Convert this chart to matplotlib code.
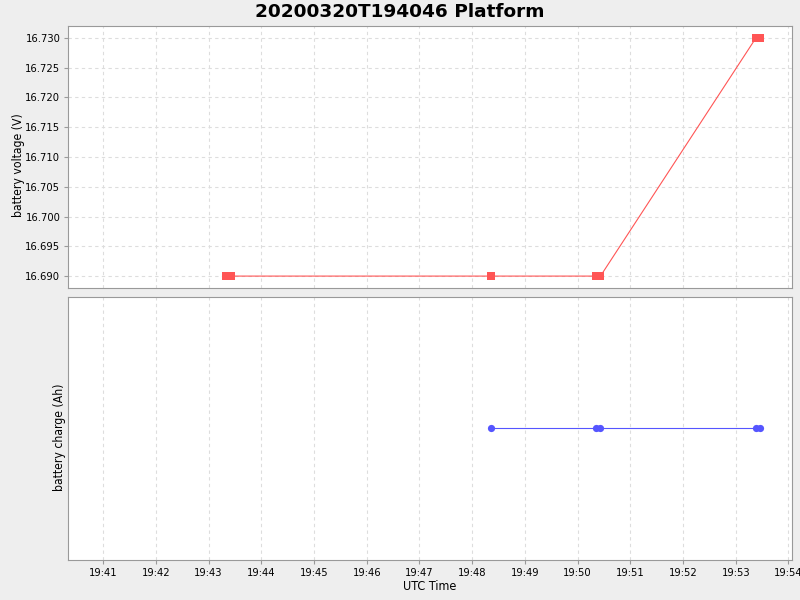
import matplotlib
matplotlib.use("Agg")
import matplotlib.pyplot as plt
import matplotlib.dates as mdates
import numpy as np
from datetime import datetime

# sample times (UTC)
times = ["19:43:20", "19:43:26", "19:48:21", "19:50:21", "19:50:26", "19:53:23", "19:53:28"]
voltage = [16.690, 16.690, 16.690, 16.690, 16.690, 16.730, 16.730]
charge = [np.nan, np.nan, 0.0, 0.0, 0.0, 0.0, 0.0]

volt_ticks = [16.690, 16.695, 16.700, 16.705, 16.710, 16.715, 16.720, 16.725, 16.730]
t = [datetime.strptime("2020-03-20 " + s, "%Y-%m-%d %H:%M:%S") for s in times]

bg = "#EEEEEE"
grid_c = "#DDDDDD"
edge_c = "#999999"

plt.rcParams["font.stretch"] = "condensed"

fig = plt.figure(figsize=(8, 6), dpi=100, facecolor=bg)
ax1 = fig.add_axes([0.085, 0.52, 0.905, 0.4367])
ax2 = fig.add_axes([0.085, 0.0667, 0.905, 0.4383], sharex=ax1)

ax1.plot(t, voltage, color="#FF5555", lw=0.8, marker="s", ms=5.2, mew=0)
ax2.plot(t, charge, color="#5555FF", lw=0.8, marker="o", ms=5.2, mew=0)

ax1.set_ylim(16.688, 16.732)
ax1.set_yticks(volt_ticks)
ax1.set_yticklabels(["%.3f" % v for v in volt_ticks])
ax2.set_ylim(-1, 1)
ax2.set_yticks([])

x0 = datetime(2020, 3, 20, 19, 40, 20)
x1 = datetime(2020, 3, 20, 19, 54, 4)
ax1.set_xlim(x0, x1)
ax2.xaxis.set_major_locator(mdates.MinuteLocator())
ax2.xaxis.set_major_formatter(mdates.DateFormatter("%H:%M"))
plt.setp(ax1.get_xticklabels(), visible=False)

for ax in (ax1, ax2):
    ax.set_facecolor("white")
    for sp in ax.spines.values():
        sp.set_color(edge_c)
    ax.tick_params(colors=edge_c, labelcolor="black", labelsize=8, length=3, width=0.8, pad=2.5)
    ax.grid(True, axis="x", color=grid_c, linestyle=(0, (3, 3)), lw=0.8)
ax1.grid(True, axis="y", color=grid_c, linestyle=(0, (3, 3)), lw=0.8)
ax1.tick_params(axis="x", length=0)

ax1.set_ylabel("battery voltage (V)", fontsize=8.7, va="center")
ax1.yaxis.set_label_coords(-0.069, 0.469)
ax2.set_ylabel("battery charge (Ah)", fontsize=8.7, va="center")
ax2.yaxis.set_label_coords(-0.0124, 0.468)
ax2.set_xlabel("UTC Time", fontsize=9, labelpad=2)
fig.suptitle("20200320T194046 Platform", fontsize=13.3, fontweight="bold",
             stretch="normal", y=0.995)

fig.savefig("out.png", dpi=100, facecolor=bg)
